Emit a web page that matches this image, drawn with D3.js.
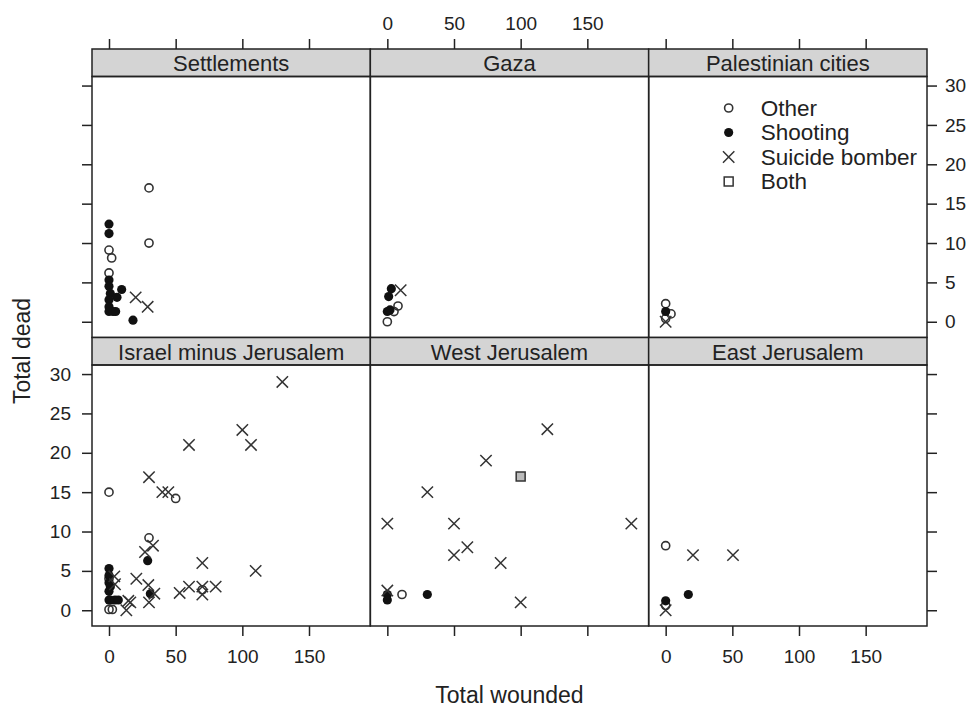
<!DOCTYPE html>
<html>
<head>
<meta charset="utf-8">
<script src="https://cdn.jsdelivr.net/npm/d3@7"></script>
<style>
  body { margin: 0; background: #fff; }
  text { font-family: "Liberation Sans", Arial, sans-serif; fill: #222; }
</style>
</head>
<body>
<div id="datavis"></div>
<script>

// panels, in lattice order (top row first)
const panelNames = ["Settlements", "Gaza", "Palestinian cities",
                    "Israel minus Jerusalem", "West Jerusalem", "East Jerusalem"];

const typeCodes = ["O", "S", "X", "B"];
const typeNames = ["Other", "Shooting", "Suicide bomber", "Both"];

const xTicks = [0, 50, 100, 150];
const yTicks = [0, 5, 10, 15, 20, 25, 30];

// [type, total wounded, total dead]
const settlements = [
  ["O", 30, 17], ["O", 30, 10], ["O", 0, 9.1], ["O", 2, 8.1], ["O", 0, 6.2],
  ["S", 0, 12.4], ["S", 0, 11.2], ["S", 0, 5.3], ["S", 0, 4.5], ["S", 9.5, 4.1],
  ["S", 1, 3.6], ["S", 6, 3.1], ["S", 0, 2.8], ["S", 0, 1.9], ["S", 0, 1.3],
  ["S", 3, 1.3], ["S", 5, 1.3], ["S", 18, 0.2],
  ["X", 20, 3.1], ["X", 29, 1.9]
];

const gaza = [
  ["O", 0, 0], ["O", 5, 1.3], ["O", 8, 2],
  ["S", 0, 1.3], ["S", 2, 1.5], ["S", 1, 3.2], ["S", 3, 4.2],
  ["X", 10, 4]
];

const palestinianCities = [
  ["O", 0, 2.3], ["O", 4, 1], ["O", 0, 0.4],
  ["S", 0, 1.3],
  ["X", 0, 0]
];

const israelMinusJerusalem = [
  ["O", 0, 15], ["O", 50, 14.2], ["O", 30, 9.2], ["O", 0, 4], ["O", 70, 2.6],
  ["O", 0, 0.1], ["O", 2.5, 0.1],
  ["S", 0, 5.3], ["S", 0, 4.4], ["S", 0, 3.5], ["S", 1, 3], ["S", 0, 2.4],
  ["S", 0, 1.3], ["S", 1, 1.3], ["S", 4.5, 1.3], ["S", 7, 1.3], ["S", 29, 6.3],
  ["S", 31, 2.1],
  ["X", 130, 29], ["X", 100, 22.9], ["X", 106.5, 21], ["X", 60, 21], ["X", 30, 16.9],
  ["X", 40, 15], ["X", 44.5, 15], ["X", 33, 8.2], ["X", 27, 7.4], ["X", 70, 6],
  ["X", 110, 5], ["X", 20.5, 4], ["X", 4, 4.3], ["X", 4.5, 3.3], ["X", 60, 3],
  ["X", 70, 3], ["X", 80, 3], ["X", 29.5, 3.2], ["X", 53, 2.2], ["X", 70, 2],
  ["X", 34, 2.1], ["X", 30, 1], ["X", 14.5, 1.2], ["X", 16, 1], ["X", 13, 0]
];

const westJerusalem = [
  ["O", 11, 2],
  ["S", 0, 2], ["S", 0, 1.3], ["S", 30, 2],
  ["X", 120, 23], ["X", 74, 19], ["X", 30, 15], ["X", 0, 11], ["X", 50, 11],
  ["X", 183, 11], ["X", 60, 8], ["X", 50, 7], ["X", 85, 6], ["X", 100, 1],
  ["X", 0, 2.5],
  ["B", 100, 17]
];

const eastJerusalem = [
  ["O", 0, 8.2], ["O", 0, 0.6],
  ["S", 17, 2], ["S", 0, 1.2],
  ["X", 20.5, 7], ["X", 50.5, 7], ["X", 0, 0]
];

const panelData = [settlements, gaza, palestinianCities,
                   israelMinusJerusalem, westJerusalem, eastJerusalem];


// layout
const W = 971, H = 709;
const PLOT = {left: 92, right: 927, top: 49, bottom: 626};
const STRIP = 27.5;
const COL_W = (PLOT.right - PLOT.left) / 3;
const ROW_H = (PLOT.bottom - PLOT.top) / 2;
const PANEL_H = ROW_H - STRIP;
const INK = "#222";

const svg = d3.select("#datavis")
  .append("svg")
    .attr("width", W)
    .attr("height", H);

const x = d3.scaleLinear()
    .domain([-12.75, 196])
    .range([0, COL_W]);

const y = d3.scaleLinear()
    .domain([-2.0, 31.15])
    .range([PANEL_H, 0]);

const symbolFor = {
  "O": d3.symbol().type(d3.symbolCircle).size(52),
  "S": d3.symbol().type(d3.symbolCircle).size(66),
  "X": d3.symbol().type(d3.symbolTimes).size(86),
  "B": d3.symbol().type(d3.symbolSquare).size(80)
};

const styleSymbol = function(sel, code, legend) {
  sel.attr("d", symbolFor[code]())
    .attr("stroke", code === "S" ? "none" : "#333")
    .attr("stroke-width", code === "O" ? 1.6 : 1.5)
    .attr("fill", code === "S" ? "#111" : (code === "B" && !legend ? "#bbb" : "none"));
};

const styleAxis = function(g) {
  g.select(".domain").remove();
  g.selectAll(".tick line").attr("stroke", INK).attr("stroke-width", 1.5);
  g.selectAll(".tick text").style("font-size", "19px").attr("fill", INK);
};

panelNames.forEach((name, i) => {
  const col = i % 3, row = Math.floor(i / 3);
  const g = svg.append("g")
    .attr("transform", "translate(" + (PLOT.left + col * COL_W) + "," + (PLOT.top + row * ROW_H) + ")");

  // strip
  g.append("rect")
    .attr("width", COL_W)
    .attr("height", STRIP)
    .attr("fill", "#d4d4d4")
    .attr("stroke", INK)
    .attr("stroke-width", 1.5);

  g.append("text")
    .attr("x", COL_W / 2)
    .attr("y", STRIP / 2 + 1)
    .attr("text-anchor", "middle")
    .attr("dominant-baseline", "central")
    .style("font-size", "22px")
    .text(name);

  const panel = g.append("g").attr("transform", "translate(0," + STRIP + ")");

  // axes, alternating like lattice
  if (col === 0) {
    panel.append("g")
      .call(d3.axisLeft(y).tickValues(yTicks).tickSize(10).tickPadding(11)
        .tickFormat(row === 1 ? d3.format("d") : ""))
      .call(styleAxis);
  }
  if (col === 2) {
    panel.append("g")
      .attr("transform", "translate(" + COL_W + ",0)")
      .call(d3.axisRight(y).tickValues(yTicks).tickSize(10).tickPadding(8)
        .tickFormat(row === 0 ? d3.format("d") : ""))
      .call(styleAxis);
  }
  if (row === 0) {
    g.append("g")
      .call(d3.axisTop(x).tickValues(xTicks).tickSize(10).tickPadding(9)
        .tickFormat(col === 1 ? d3.format("d") : ""))
      .call(styleAxis);
  }
  if (row === 1) {
    panel.append("g")
      .attr("transform", "translate(0," + PANEL_H + ")")
      .call(d3.axisBottom(x).tickValues(xTicks).tickSize(10).tickPadding(14)
        .tickFormat(col !== 1 ? d3.format("d") : ""))
      .call(styleAxis);
  }

  // points, one group after the other
  typeCodes.forEach((code) => {
    panel.selectAll(".pt-" + code)
      .data(panelData[i].filter((d) => d[0] === code))
      .join("path")
      .attr("class", "pt-" + code)
      .attr("transform", (d) => "translate(" + x(d[1]) + "," + y(d[2]) + ")")
      .call((sel) => styleSymbol(sel, code, false));
  });

  panel.append("rect")
    .attr("width", COL_W)
    .attr("height", PANEL_H)
    .attr("fill", "none")
    .attr("stroke", INK)
    .attr("stroke-width", 1.5);
});

// legend inside "Palestinian cities"
const legend = svg.append("g")
  .attr("transform", "translate(" + (PLOT.left + 2 * COL_W + 80) + ",108)");

typeCodes.forEach((code, k) => {
  const row = legend.append("g").attr("transform", "translate(0," + (k * 24.5) + ")");
  row.append("path").call((sel) => styleSymbol(sel, code, true));
  row.append("text")
    .attr("x", 32)
    .attr("dominant-baseline", "central")
    .style("font-size", "22.5px")
    .text(typeNames[k]);
});

// axis titles
svg.append("text")
  .attr("x", (PLOT.left + PLOT.right) / 2)
  .attr("y", 695)
  .attr("text-anchor", "middle")
  .attr("dominant-baseline", "central")
  .style("font-size", "23px")
  .text("Total wounded");

svg.append("text")
  .attr("transform", "translate(22,351) rotate(-90)")
  .attr("text-anchor", "middle")
  .attr("dominant-baseline", "central")
  .style("font-size", "23px")
  .text("Total dead");

</script>
</body>
</html>
